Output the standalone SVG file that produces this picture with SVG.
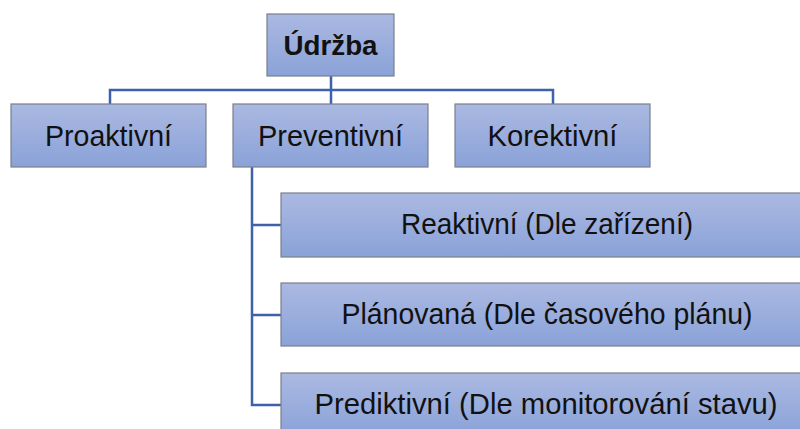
<svg xmlns="http://www.w3.org/2000/svg" width="800" height="429" viewBox="0 0 800 429">
  <defs>
    <linearGradient id="boxFill" x1="0" y1="0" x2="0" y2="1">
      <stop offset="0" stop-color="#abb9e2"/>
      <stop offset="1" stop-color="#8aa2d8"/>
    </linearGradient>
    <style>
      .box { fill: url(#boxFill); stroke: #7a7f8a; stroke-width: 1.2; }
      .lbl { font-family: "Liberation Sans", Arial, sans-serif; font-size: 29px; fill: #111; text-anchor: middle; }
      .root { font-weight: bold; font-size: 28px; }
      .conn { fill: none; stroke: #3d62aa; stroke-width: 2.5; }
    </style>
  </defs>
  <rect width="800" height="429" fill="#ffffff"/>

  <g id="connectors">
    <path class="conn" d="M331,76 V90 M110,104 V90 H553 V104 M331,90 V104"/>
    <path class="conn" d="M252,167 V405 H281 M252,225 H281 M252,315 H281"/>
  </g>

  <g id="udrzba">
    <rect class="box" x="267" y="14" width="127" height="62"/>
    <text class="lbl root" x="330.5" y="55" textLength="94" lengthAdjust="spacingAndGlyphs">Údržba</text>
  </g>
  <g id="proaktivni">
    <rect class="box" x="11" y="104" width="195" height="63"/>
    <text class="lbl" x="108.5" y="146" textLength="127" lengthAdjust="spacingAndGlyphs">Proaktivní</text>
  </g>
  <g id="preventivni">
    <rect class="box" x="233" y="104" width="195" height="63"/>
    <text class="lbl" x="330.5" y="146" textLength="145" lengthAdjust="spacingAndGlyphs">Preventivní</text>
  </g>
  <g id="korektivni">
    <rect class="box" x="455" y="104" width="195" height="63"/>
    <text class="lbl" x="552.5" y="146" textLength="130" lengthAdjust="spacingAndGlyphs">Korektivní</text>
  </g>
  <g id="reaktivni">
    <rect class="box" x="281" y="193" width="532" height="64"/>
    <text class="lbl" x="547" y="234" textLength="292" lengthAdjust="spacingAndGlyphs">Reaktivní (Dle zařízení)</text>
  </g>
  <g id="planovana">
    <rect class="box" x="281" y="283" width="532" height="63"/>
    <text class="lbl" x="547" y="324" textLength="411" lengthAdjust="spacingAndGlyphs">Plánovaná (Dle časového plánu)</text>
  </g>
  <g id="prediktivni">
    <rect class="box" x="281" y="373" width="532" height="63"/>
    <text class="lbl" x="546" y="414" textLength="463" lengthAdjust="spacingAndGlyphs">Prediktivní (Dle monitorování stavu)</text>
  </g>
</svg>
